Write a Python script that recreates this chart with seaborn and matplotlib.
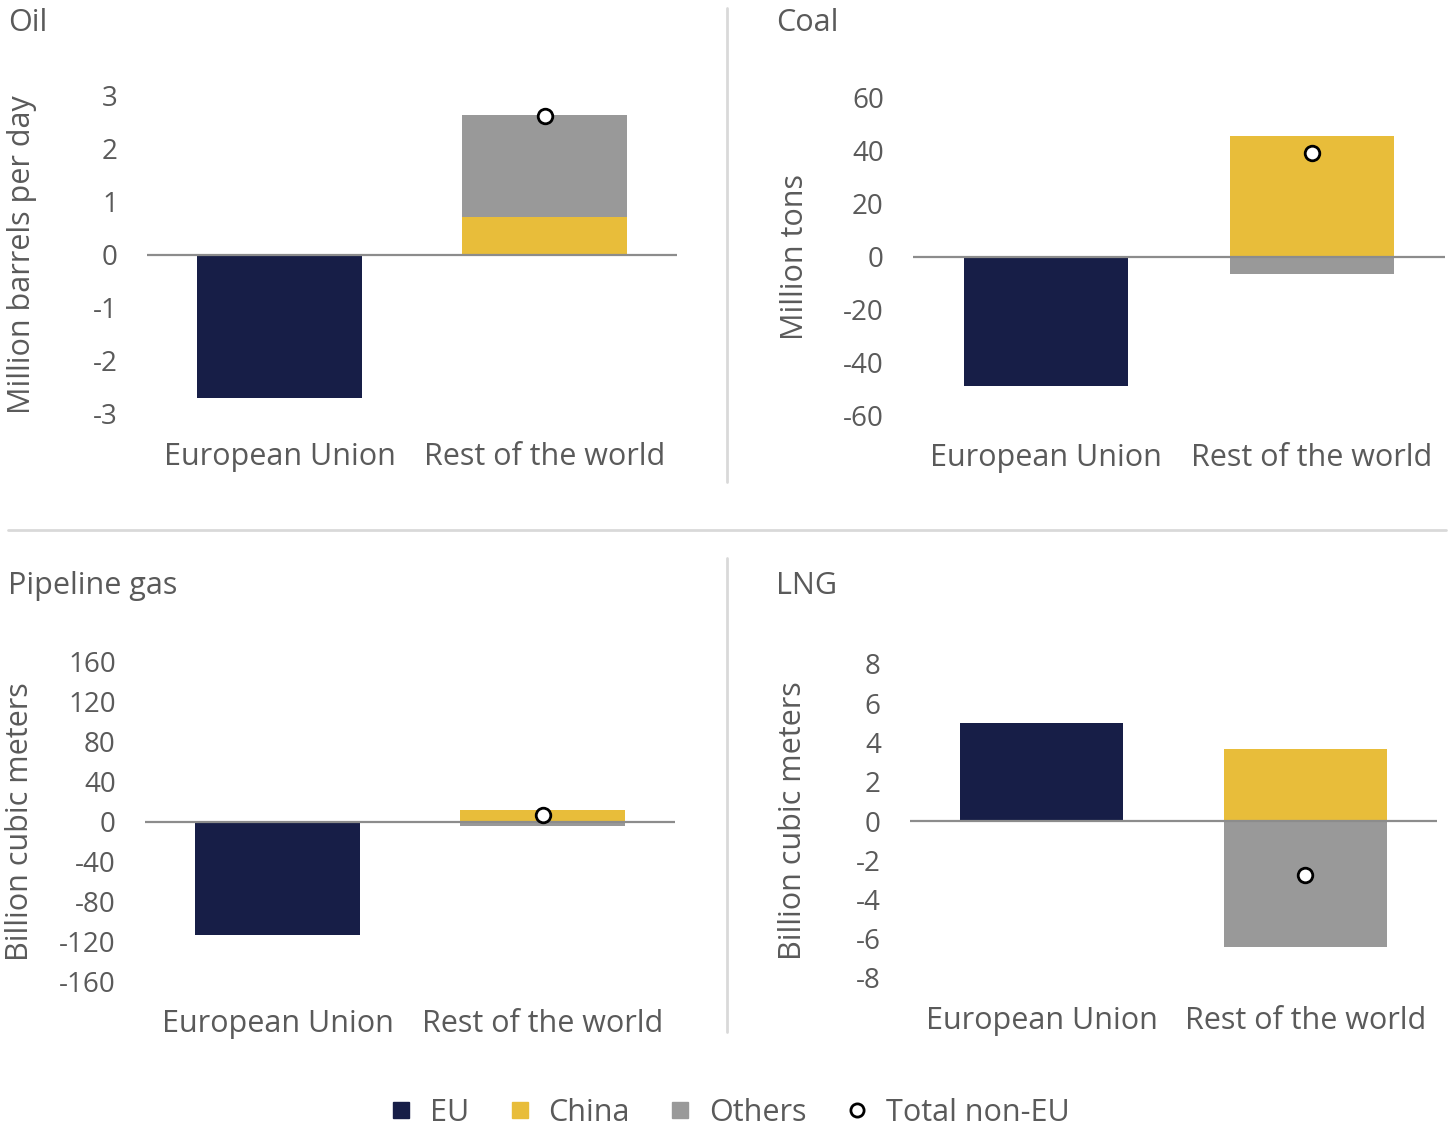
import matplotlib
matplotlib.use("Agg")
import matplotlib.pyplot as plt
from matplotlib.lines import Line2D
import seaborn as sns
import pandas as pd

# ---------------- data ----------------
categories = ["European Union", "Rest of the world"]
panels = ["Oil", "Coal", "Pipeline gas", "LNG"]
units = ["Million barrels per day", "Million tons", "Billion cubic meters", "Billion cubic meters"]
eu_values = [-2.7, -49.0, -114.0, 5.0]
china_values = [0.7, 45.5, 12.0, 3.67]
others_values = [1.92, -6.5, -5.0, -6.43]
total_non_eu = [2.6, 39.0, 7.0, -2.76]
y_ticks = [[-3, -2, -1, 0, 1, 2, 3],
           [-60, -40, -20, 0, 20, 40, 60],
           [-160, -120, -80, -40, 0, 40, 80, 120, 160],
           [-8, -6, -4, -2, 0, 2, 4, 6, 8]]
legend_labels = ["EU", "China", "Others", "Total non-EU"]

# ---------------- style ----------------
C_EU = "#171e47"
C_CHINA = "#e8bd3a"
C_OTHERS = "#999999"
TXT = "#5a5a5a"
FS = 22      # general text
FS_TICK = 20 # numeric tick labels

sns.set_theme(style="white")
plt.rcParams["font.family"] = ["Open Sans", "DejaVu Sans"]
plt.rcParams["text.color"] = TXT
plt.rcParams["axes.labelcolor"] = TXT
plt.rcParams["xtick.color"] = TXT
plt.rcParams["ytick.color"] = TXT

W, H = 1450, 1127
fig = plt.figure(figsize=(W / 100, H / 100), dpi=100)

# axes boxes in pixel coords: (left, right, top, bottom)
boxes = [(147, 677, 95, 414), (913, 1445, 98, 415),
         (145, 675, 662, 981), (910, 1437, 664, 978)]
title_pos = [(8, 23), (776, 23), (8, 586), (776, 586)]
ylabel_x = [22, 795, 20, 793]

for i in range(4):
    l, r, t, b = boxes[i]
    ax = fig.add_axes([l / W, 1 - b / H, (r - l) / W, (b - t) / H])
    ch, ot = china_values[i], others_values[i]
    # stacked: others sits on top of china when same sign
    others_top = ch + ot if (ch >= 0) == (ot >= 0) else ot
    df = pd.DataFrame({
        "category": [categories[0], categories[1], categories[1]],
        "value": [eu_values[i], others_top, ch],
        "series": ["EU", "Others", "China"],
    })
    sns.barplot(data=df, x="category", y="value", hue="series",
                hue_order=["Others", "China", "EU"], order=categories,
                palette={"EU": C_EU, "China": C_CHINA, "Others": C_OTHERS},
                dodge=False, width=0.62, saturation=1, ax=ax, legend=False,
                linewidth=0, zorder=2)
    ax.axhline(0, color="#8c8c8c", lw=1.6, zorder=3)
    dots = pd.DataFrame({"category": [categories[1]], "value": [total_non_eu[i]]})
    sns.stripplot(data=dots, x="category", y="value", order=categories,
                  jitter=False, color="white", edgecolor="black", linewidth=2,
                  size=10.5, ax=ax, zorder=5)
    ax.set_xlim(-0.5, 1.5)
    tk = y_ticks[i]
    ax.set_ylim(tk[0], tk[-1])
    ax.set_yticks(tk)
    ax.set_yticklabels([str(v) for v in tk])
    ax.tick_params(axis="y", length=0, pad=21, labelsize=FS_TICK)
    ax.tick_params(axis="x", length=0, pad=20, labelsize=FS)
    ax.set_xlabel("")
    ax.set_ylabel(units[i], fontsize=FS, va="center")
    ax.yaxis.set_label_coords((ylabel_x[i] - l) / (r - l), 0.5)
    for s in ax.spines.values():
        s.set_visible(False)
    ax.set_facecolor("none")
    fig.text(title_pos[i][0] / W, 1 - title_pos[i][1] / H, panels[i],
             fontsize=FS, color=TXT, ha="left", va="center")

# separators
sep = "#d9d9d9"
fig.add_artist(Line2D([727 / W, 727 / W], [1 - 8 / H, 1 - 482 / H], color=sep, lw=2, transform=fig.transFigure))
fig.add_artist(Line2D([727 / W, 727 / W], [1 - 558 / H, 1 - 1032 / H], color=sep, lw=2, transform=fig.transFigure))
fig.add_artist(Line2D([8 / W, 1446 / W], [1 - 530 / H, 1 - 530 / H], color=sep, lw=2, transform=fig.transFigure))

handles = [
    Line2D([], [], marker="s", linestyle="none", markersize=12, markerfacecolor=C_EU, markeredgecolor=C_EU),
    Line2D([], [], marker="s", linestyle="none", markersize=12, markerfacecolor=C_CHINA, markeredgecolor=C_CHINA),
    Line2D([], [], marker="s", linestyle="none", markersize=12, markerfacecolor=C_OTHERS, markeredgecolor=C_OTHERS),
    Line2D([], [], marker="o", linestyle="none", markersize=9.5, markerfacecolor="white",
           markeredgecolor="black", markeredgewidth=2),
]
fig.legend(handles, legend_labels, loc="center", bbox_to_anchor=(0.502, 1 - 1113 / H),
           ncol=4, frameon=False, fontsize=FS, handlelength=1.0, handletextpad=0.45,
           columnspacing=1.15, labelcolor=TXT)

fig.savefig("out.png", dpi=100)
